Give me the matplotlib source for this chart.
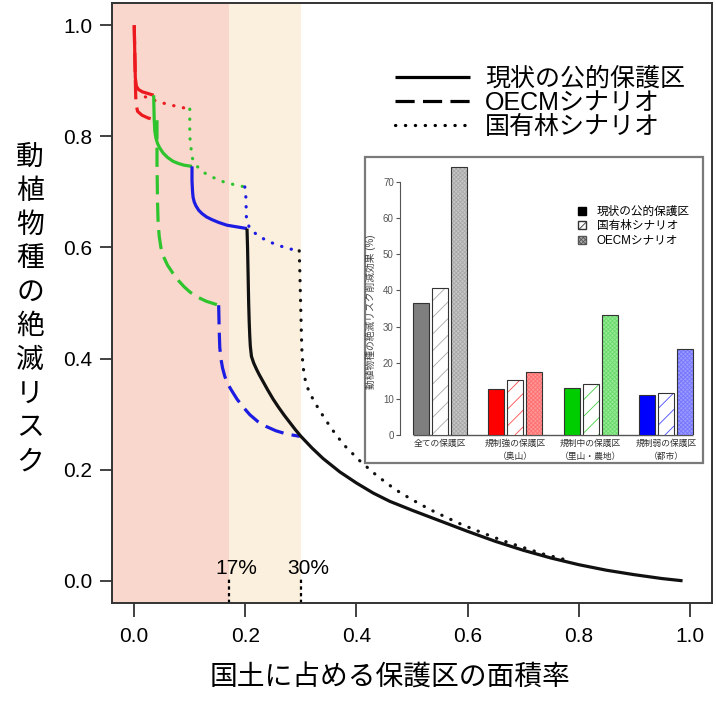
import matplotlib
matplotlib.use('Agg')
import matplotlib.pyplot as plt
from matplotlib.lines import Line2D
from matplotlib.patches import Patch, Rectangle

plt.rcParams['font.family'] = ['Liberation Sans', 'Noto Sans CJK JP', 'DejaVu Sans']
plt.rcParams['hatch.linewidth'] = 0.6

# --- main chart data ---
# current protected areas (solid)
cur_red_x = [0.0, 0.001, 0.002, 0.004, 0.008, 0.015, 0.025, 0.035]
cur_red_y = [1.0, 0.95, 0.905, 0.89, 0.884, 0.88, 0.877, 0.874]
cur_green_x = [0.035, 0.0355, 0.036, 0.037, 0.039, 0.042, 0.046, 0.052, 0.06, 0.07, 0.08, 0.09, 0.104]
cur_green_y = [0.874, 0.85, 0.83, 0.81, 0.797, 0.787, 0.779, 0.770, 0.762, 0.755, 0.751, 0.748, 0.746]
cur_blue_x = [0.104, 0.104, 0.105, 0.106, 0.108, 0.111, 0.116, 0.122, 0.13, 0.14, 0.152, 0.167, 0.185, 0.203]
cur_blue_y = [0.746, 0.72, 0.70, 0.69, 0.682, 0.675, 0.667, 0.661, 0.655, 0.65, 0.645, 0.640, 0.637, 0.634]
cur_black_x = [0.203, 0.204, 0.205, 0.206, 0.207, 0.208, 0.209, 0.211, 0.215, 0.220, 0.225, 0.23,
               0.24, 0.25, 0.26, 0.27, 0.28, 0.29, 0.30, 0.32, 0.34, 0.37, 0.40, 0.43, 0.46, 0.50,
               0.55, 0.60, 0.65, 0.70, 0.75, 0.80, 0.85, 0.90, 0.95, 0.987]
cur_black_y = [0.634, 0.60, 0.55, 0.50, 0.465, 0.44, 0.422, 0.404, 0.392, 0.381, 0.371, 0.362,
               0.344, 0.327, 0.312, 0.298, 0.285, 0.272, 0.260, 0.239, 0.220, 0.196, 0.176, 0.158,
               0.143, 0.127, 0.108, 0.089, 0.071, 0.055, 0.041, 0.029, 0.019, 0.011, 0.004, 0.0]

# OECM scenario (dashed)
oecm_red_x = [0.0, 0.001, 0.002, 0.003, 0.006, 0.014, 0.025, 0.041]
oecm_red_y = [1.0, 0.95, 0.90, 0.86, 0.845, 0.838, 0.833, 0.829]
oecm_green_x = [0.041, 0.041, 0.042, 0.043, 0.045, 0.048, 0.053, 0.06, 0.07, 0.08, 0.09, 0.10,
                0.113, 0.13, 0.152]
oecm_green_y = [0.829, 0.75, 0.68, 0.645, 0.62, 0.60, 0.583, 0.568, 0.553, 0.54, 0.529, 0.52,
                0.511, 0.503, 0.496]
oecm_blue_x = [0.152, 0.153, 0.154, 0.156, 0.159, 0.163, 0.168, 0.175, 0.185, 0.195, 0.208,
               0.222, 0.237, 0.255, 0.275, 0.298]
oecm_blue_y = [0.496, 0.45, 0.42, 0.40, 0.383, 0.368, 0.355, 0.343, 0.327, 0.314, 0.299,
               0.287, 0.278, 0.27, 0.264, 0.26]

# national forest scenario (dotted)
nf_red_x = [0.02, 0.044, 0.063, 0.081, 0.10]
nf_red_y = [0.871, 0.862, 0.857, 0.853, 0.849]
nf_green_x = [0.10, 0.10, 0.104, 0.111, 0.125, 0.142, 0.161, 0.18, 0.199]
nf_green_y = [0.849, 0.80, 0.762, 0.748, 0.735, 0.726, 0.718, 0.713, 0.709]
nf_blue_x = [0.199, 0.201, 0.202, 0.208, 0.223, 0.241, 0.259, 0.277, 0.297]
nf_blue_y = [0.709, 0.69, 0.65, 0.634, 0.621, 0.611, 0.604, 0.598, 0.594]
nf_black_x = [0.297, 0.298, 0.299, 0.300, 0.301, 0.302, 0.304, 0.307, 0.311, 0.316, 0.325, 0.334,
              0.345, 0.355, 0.367, 0.379, 0.393, 0.407, 0.422, 0.437, 0.453, 0.469, 0.485, 0.502,
              0.52, 0.537, 0.56, 0.59, 0.625, 0.664, 0.70, 0.737, 0.78]
nf_black_y = [0.594, 0.56, 0.52, 0.48, 0.44, 0.41, 0.385, 0.365, 0.35, 0.338, 0.321, 0.306,
              0.289, 0.274, 0.258, 0.243, 0.229, 0.215, 0.202, 0.189, 0.177, 0.165, 0.155, 0.145,
              0.135, 0.126, 0.115, 0.101, 0.087, 0.072, 0.060, 0.048, 0.037]

targets = [0.17, 0.30]
legend_labels = ['現状の公的保護区', 'OECMシナリオ', '国有林シナリオ']
ylabel_text = '動植物種の絶滅リスク'
xlabel_text = '国土に占める保護区の面積率'

# --- inset bar chart data ---
groups = ['全ての保護区', '規制強の保護区\n（奥山）', '規制中の保護区\n（里山・農地）', '規制弱の保護区\n（都市）']
current = [36.6, 12.7, 12.9, 11.1]
forest = [40.6, 15.2, 14.0, 11.5]
oecm = [74.1, 17.3, 33.3, 23.7]
bar_labels = ['現状の公的保護区', '国有林シナリオ', 'OECMシナリオ']

RED, GREEN, BLUE, BLACK = '#EC1A1E', '#2EC42E', '#1C1CE2', '#111111'
solid_cols = ['#7F7F7F', '#FF0000', '#00CD00', '#0000FF']
hatch_cols = ['#A8A8A8', '#FF4A4A', '#45D045', '#4848FF']
light_face = ['#C6C6C6', '#FF9696', '#96EA96', '#9A9AFF']
light_hatch = ['#A8A8A8', '#FF7070', '#6ADA6A', '#7676FF']

W, H = 716, 712
fig = plt.figure(figsize=(W / 100, H / 100), dpi=100)


def px_box(x0, y0, x1, y1):
    return [x0 / W, 1 - y1 / H, (x1 - x0) / W, (y1 - y0) / H]


ax = fig.add_axes(px_box(112, 3, 712, 603))
ax.set_xlim(-0.04, 1.04)
ax.set_ylim(-0.04, 1.04)
ax.axvspan(-0.04, targets[0], color='#FAD7CC', lw=0, zorder=0)
ax.axvspan(targets[0], targets[1], color='#FBEFDD', lw=0, zorder=0)

lw = 2.3
dot = dict(linestyle=(0, (0.1, 3.0)), dash_capstyle='round', lw=lw)
dash = dict(linestyle=(0, (6, 2.6)), lw=lw)
solid = dict(linestyle='-', lw=lw, solid_capstyle='butt', solid_joinstyle='round')

ax.plot(nf_red_x, nf_red_y, color=RED, **dot)
ax.plot(nf_green_x, nf_green_y, color=GREEN, **dot)
ax.plot(nf_blue_x, nf_blue_y, color=BLUE, **dot)
ax.plot(nf_black_x, nf_black_y, color=BLACK, **dot)

ax.plot(oecm_red_x, oecm_red_y, color=RED, **dash)
ax.plot(oecm_green_x, oecm_green_y, color=GREEN, **dash)
ax.plot(oecm_blue_x, oecm_blue_y, color=BLUE, **dash)

ax.plot(cur_red_x, cur_red_y, color=RED, **solid)
ax.plot(cur_green_x, cur_green_y, color=GREEN, **solid)
ax.plot(cur_blue_x, cur_blue_y, color=BLUE, **solid)
ax.plot(cur_black_x, cur_black_y, color=BLACK, **solid)

ax.vlines(targets, -0.04, 0.005, colors='black', linestyles=(0, (1.5, 1.5)), lw=1.6)
for t in targets:
    ax.text(t + 0.013, 0.022, f'{int(round(t * 100))}%', ha='center', va='center', fontsize=15)

ticks = [0.0, 0.2, 0.4, 0.6, 0.8, 1.0]
ax.set_xticks(ticks, [f'{t:.1f}' for t in ticks])
ax.set_yticks(ticks, [f'{t:.1f}' for t in ticks])
ax.tick_params(axis='x', length=10, width=1.3, pad=7, labelsize=15, color='#333333')
ax.tick_params(axis='y', length=8.6, width=1.3, pad=5.5, labelsize=15, color='#333333')
for s in ax.spines.values():
    s.set_linewidth(1.4)
    s.set_color('#333333')

handles = [Line2D([], [], color='black', **solid),
           Line2D([], [], color='black', **dash),
           Line2D([], [], color='black', **dot)]
ax.legend(handles, legend_labels, loc='upper left', bbox_to_anchor=(395 / W, 1 - 67 / H),
          bbox_transform=fig.transFigure, frameon=False, fontsize=18, handlelength=3,
          handletextpad=0.6, labelspacing=0.0, borderpad=0, borderaxespad=0)

for i, ch in enumerate(ylabel_text):
    fig.text(30 / W, 1 - (158 + i * 33.8) / H, ch, ha='center', va='center', fontsize=20)
fig.text(390 / W, 1 - 679 / H, xlabel_text, ha='center', va='center', fontsize=20)

# --- inset ---
frame = Rectangle((365 / W, 1 - 463 / H), 338 / W, 306 / H, transform=fig.transFigure,
                  facecolor='white', edgecolor='#7A7A7A', lw=1.6, zorder=1)
fig.add_artist(frame)

ax2 = fig.add_axes(px_box(400, 160.3, 700, 435), zorder=2)
ax2.patch.set_alpha(0)
ax2.set_xlim(0, 18.87)
ax2.set_ylim(0, 76)

centers = []
for g in range(len(groups)):
    left = 0.8 + g * 4.75
    centers.append(left + 1.2 + 0.5)
    ax2.bar(left, current[g], 1, align='edge', color=solid_cols[g], edgecolor='#333333', lw=0.8)
    ax2.bar(left + 1.2, forest[g], 1, align='edge', facecolor='white', edgecolor=hatch_cols[g],
            lw=0, hatch='//')
    ax2.bar(left + 1.2, forest[g], 1, align='edge', fill=False, edgecolor='#333333', lw=0.8)
    ax2.bar(left + 2.4, oecm[g], 1, align='edge', facecolor=light_face[g], edgecolor=light_hatch[g],
            lw=0, hatch='xxxxxxxx')
    ax2.bar(left + 2.4, oecm[g], 1, align='edge', fill=False, edgecolor='#333333', lw=0.8)

ax2.hlines(0, 0.8, 0.8 + 3 * 4.75 + 3.4, color='#555555', lw=1.0, zorder=0, clip_on=False)

for side in ['top', 'right', 'bottom']:
    ax2.spines[side].set_visible(False)
ax2.spines['left'].set_bounds(0, 70)
ax2.spines['left'].set_color('#555555')
ax2.spines['left'].set_linewidth(0.8)
ax2.set_yticks(range(0, 71, 10))
ax2.tick_params(axis='y', length=3, width=0.8, pad=1.5, labelsize=7, colors='#555555')
ax2.set_xticks(centers, groups, linespacing=1.5)
ax2.tick_params(axis='x', length=0, pad=3, labelsize=6.3, labelcolor='#333333')
ax2.set_ylabel('動植物種の絶滅リスク削減効果 (%)', fontsize=7, color='#444444')
ax2.yaxis.set_label_coords(-0.08, 0.45)

bar_handles = [Patch(facecolor='black', edgecolor='black'),
               Patch(facecolor='white', edgecolor='#333333', hatch='////'),
               Patch(facecolor='#B0B0B0', edgecolor='#555555', hatch='xxxxxxxx')]
ax2.legend(bar_handles, bar_labels, loc='upper left', bbox_to_anchor=(578 / W, 1 - 206 / H),
           bbox_transform=fig.transFigure, frameon=False, fontsize=8.4, handlelength=0.7,
           handleheight=0.7, handletextpad=0.9, labelspacing=0.2, borderpad=0, borderaxespad=0)

fig.savefig('out.png', dpi=100)
